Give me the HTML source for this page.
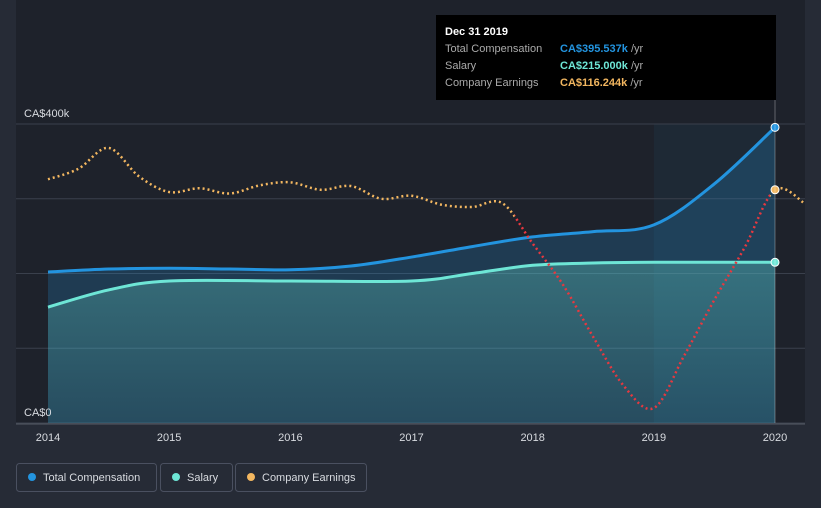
<!DOCTYPE html>
<html><head><meta charset="utf-8"><style>
body{margin:0;background:#262b36;font-family:"Liberation Sans",sans-serif;}
svg{display:block}
</style></head><body>
<svg id="c" width="821" height="508">
<defs>
<linearGradient id="gs" x1="0" y1="0" x2="0" y2="1"><stop offset="0" stop-color="#6ee6d6" stop-opacity="0.3"/><stop offset="1" stop-color="#6ee6d6" stop-opacity="0.1"/></linearGradient>
</defs>
<rect width="821" height="508" fill="#262b36"/>
<rect x="16" y="0" width="789" height="424" fill="#1e222b"/>
<g id="grid"></g>
<g id="series"></g>
<g id="xaxis"></g>
<text x="24" y="117" fill="#d8dbe0" font-size="11">CA$400k</text>
<text x="24" y="416" fill="#d8dbe0" font-size="11">CA$0</text>
<line x1="775" y1="100" x2="775" y2="423" stroke="#ffffff" stroke-opacity="0.3"/>
<g>
<rect x="436" y="15" width="340" height="85" fill="#000"/>
<text x="445" y="35" fill="#fff" font-size="11" font-weight="bold">Dec 31 2019</text>
<text x="445" y="52" fill="#aaa" font-size="11">Total Compensation</text>
<text x="560" y="52" fill="#2394df" font-size="11" font-weight="bold">CA$395.537k <tspan fill="#aaa" font-weight="normal">/yr</tspan></text>
<text x="445" y="69" fill="#aaa" font-size="11">Salary</text>
<text x="560" y="69" fill="#6ee6d6" font-size="11" font-weight="bold">CA$215.000k <tspan fill="#aaa" font-weight="normal">/yr</tspan></text>
<text x="445" y="86" fill="#aaa" font-size="11">Company Earnings</text>
<text x="560" y="86" fill="#f3b760" font-size="11" font-weight="bold">CA$116.244k <tspan fill="#aaa" font-weight="normal">/yr</tspan></text>
</g>
<g>
<g><rect x="16.5" y="463.5" width="140" height="28" rx="3" fill="none" stroke="#4a5060"/><circle cx="32" cy="477" r="4" fill="#2394df"/><text x="43" y="481" fill="#d8dbe0" font-size="11">Total Compensation</text></g>
<g><rect x="160.5" y="463.5" width="72" height="28" rx="3" fill="none" stroke="#4a5060"/><circle cx="176" cy="477" r="4" fill="#6ee6d6"/><text x="187" y="481" fill="#d8dbe0" font-size="11">Salary</text></g>
<g><rect x="235.5" y="463.5" width="131" height="28" rx="3" fill="none" stroke="#4a5060"/><circle cx="251" cy="477" r="4" fill="#f3b760"/><text x="262" y="481" fill="#d8dbe0" font-size="11">Company Earnings</text></g>
</g>
</svg>
<script>
const years=[2014,2015,2016,2017,2018,2019,2020];
const totalX=[2014,2014.5,2015,2015.5,2016,2016.5,2017,2017.5,2018,2018.5,2019,2019.5,2020];
const totalV=[202,206,207,206,205,210,222,236,249,256,265,320,395.5];
const salaryX=[2014,2014.5,2015,2016,2017,2017.5,2018,2018.5,2019,2020];
const salaryV=[155,178,190,190,190,200,211,214,215,215];
const earnX=[2014,2014.25,2014.5,2014.75,2015,2015.25,2015.5,2015.75,2016,2016.25,2016.5,2016.75,2017,2017.25,2017.5,2017.75,2018,2018.25,2018.5,2018.75,2019,2019.25,2019.5,2019.75,2020,2020.25];
const earnV=[326,340,368,330,309,314,307,318,322,312,317,300,304,292,289,294,240,185,115,50,20,90,165,235,312,293];
const yTicks=[0,100,200,300,400];
const X=v=>48+(v-2014)*121.17, Y=v=>423-v*0.7475;
const NS="http://www.w3.org/2000/svg";
function mk(t,a,p){const e=document.createElementNS(NS,t);for(const k in a)e.setAttribute(k,a[k]);p.appendChild(e);return e;}
const g=document.getElementById('grid'),s=document.getElementById('series'),xa=document.getElementById('xaxis');
const hl=mk('rect',{x:X(2019),y:Y(400),width:X(2020)-X(2019),height:Y(0)-Y(400),fill:'#2394df','fill-opacity':0.06},g);


yTicks.forEach(t=>{const l=mk('line',{x1:16,x2:805,y1:Y(t),y2:Y(t),stroke:'#3a404c'},g);

});
function smooth(xs,vs){let d='';const p=xs.map((x,i)=>[X(x),Y(vs[i])]);
d='M'+p[0][0]+','+p[0][1];
for(let i=0;i<p.length-1;i++){const p0=p[i-1]||p[i],p1=p[i],p2=p[i+1],p3=p[i+2]||p2;
d+=` C${p1[0]+(p2[0]-p0[0])/6},${p1[1]+(p2[1]-p0[1])/6} ${p2[0]-(p3[0]-p1[0])/6},${p2[1]-(p3[1]-p1[1])/6} ${p2[0]},${p2[1]}`;}
return d;}
const dt=smooth(totalX,totalV),ds=smooth(salaryX,salaryV);
const a1=mk('path',{d:dt+` L${X(2020)},${Y(0)} L${X(2014)},${Y(0)} Z`,fill:'#2394df','fill-opacity':0.22},s);


const a2=mk('path',{d:ds+` L${X(2020)},${Y(0)} L${X(2014)},${Y(0)} Z`,fill:'url(#gs)'},s);


const l1=mk('path',{d:dt,fill:'none',stroke:'#2394df','stroke-width':3},s);


const l2=mk('path',{d:ds,fill:'none',stroke:'#6ee6d6','stroke-width':3},s);


const de=smooth(earnX,earnV);
const cp=mk('clipPath',{id:'cr'},s);mk('rect',{x:X(2017.85),y:0,width:X(2020)-X(2017.85)-5,height:508},cp);
const co=mk('clipPath',{id:'co'},s);mk('rect',{x:0,y:0,width:X(2017.85),height:508},co);mk('rect',{x:X(2020)-5,y:0,width:100,height:508},co);
const e1=mk('path',{d:de,fill:'none',stroke:'#f3b760','stroke-width':2.5,'stroke-dasharray':'2 3','clip-path':'url(#co)'},s);


const e2=mk('path',{d:de,fill:'none',stroke:'#e8383f','stroke-width':2.5,'stroke-dasharray':'2 3','clip-path':'url(#cr)'},s);


[[totalV[totalV.length-1],'#2394df','total-point'],[salaryV[salaryV.length-1],'#6ee6d6','salary-point'],[earnV[earnX.indexOf(2020)],'#f3b760','earnings-point']].forEach(([v,c,n])=>{
const pt=mk('circle',{cx:X(2020),cy:Y(v),r:4,fill:c,stroke:'#fff','stroke-width':1},s);

});
mk('line',{x1:16,x2:805,y1:424,y2:424,stroke:'#555b66'},xa);
years.forEach(y=>{const t=mk('text',{x:X(y),y:441,fill:'#d8dbe0','font-size':11,'text-anchor':'middle'},xa);t.textContent=y;

});
</script>
</body></html>
